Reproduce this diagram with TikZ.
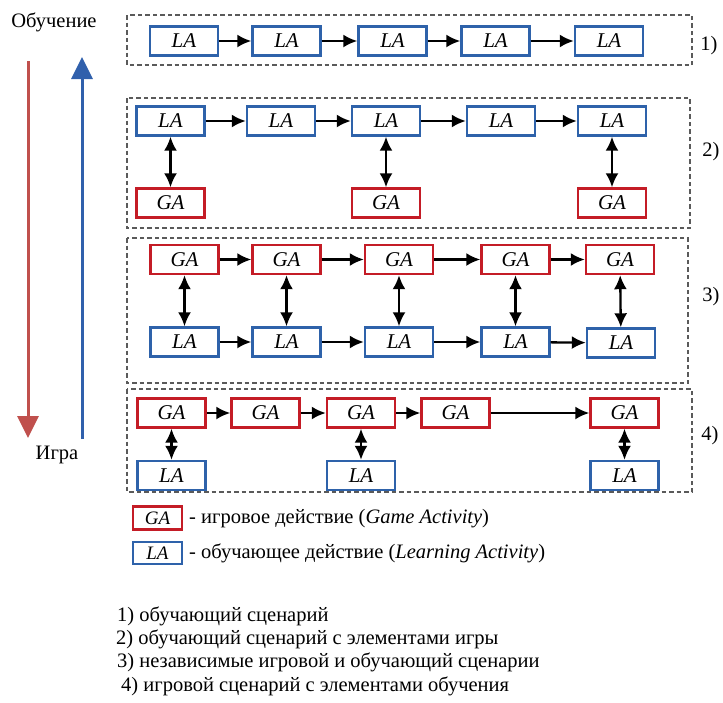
\documentclass[tikz,border=0pt]{standalone}
\usepackage{fontspec}
\IfFontExistsTF{LiberationSerif-Regular.ttf}{%
  \setmainfont{LiberationSerif}[Extension=.ttf, UprightFont=*-Regular, ItalicFont=*-Italic, BoldFont=*-Bold, BoldItalicFont=*-BoldItalic]%
}{%
  \setmainfont{Liberation Serif}%
}
\usetikzlibrary{arrows.meta}
\definecolor{boxred}{RGB}{196,28,38}
\definecolor{boxblue}{RGB}{46,98,170}
\definecolor{arrred}{RGB}{192,80,77}
\definecolor{arrblue}{RGB}{48,96,172}
\definecolor{framegray}{RGB}{90,90,90}
\tikzset{
  act/.style={draw, line width=2.4pt, fill=white, minimum width=68pt, minimum height=29pt, inner sep=0pt, font=\fontsize{21}{24}\selectfont\itshape},
  la/.style={act, draw=boxblue},
  ga/.style={act, draw=boxred},
  flow/.style={line width=2.3pt, -{Latex[length=14pt,width=13pt]}},
  both/.style={line width=2.3pt, {Latex[length=14pt,width=13pt]}-{Latex[length=14pt,width=13pt]}},
  frame/.style={draw=framegray, line width=1.4pt, dash pattern=on 4.5pt off 3pt},
  txt/.style={font=\fontsize{20.5}{24}\selectfont, inner sep=0pt},
  num/.style={font=\fontsize{20.5}{24}\selectfont, inner sep=0pt},
}
\begin{document}
\begin{tikzpicture}[x=1pt,y=-1pt]
\useasboundingbox (0,0) rectangle (723,702);
% frames
\draw[frame] (127,15) rectangle (692,65);
\draw[frame] (127,98) rectangle (690,228);
\draw[frame] (127,238) rectangle (688,383);
\draw[frame] (127,389) rectangle (692,492);
% left arrows
\node[txt] (learn) at (54,22) {Обучение};
\node[txt] (game) at (57,455) {Игра};
\coordinate (rs) at (28,61);
\coordinate (re) at (28,438);
\coordinate (bs) at (82,439);
\coordinate (be) at (82,57);
\draw[arrred, line width=3pt, -{Triangle[length=22pt,width=21pt]}] (rs) -- (re);
\draw[arrblue, line width=3pt, -{Triangle[length=22pt,width=21pt]}] (bs) -- (be);
% row 1
\node[la] (a1) at (184,41) {LA};
\node[la] (a2) at (286.5,41) {LA};
\node[la] (a3) at (392.5,41) {LA};
\node[la] (a4) at (495.5,41) {LA};
\node[la] (a5) at (609,41) {LA};
\draw[flow] (a1) -- (a2);
\draw[flow] (a2) -- (a3);
\draw[flow] (a3) -- (a4);
\draw[flow] (a4) -- (a5);
\node[num] (n1) at (709,46) {1)};
% row 2
\node[la] (b1) at (170.5,121) {LA};
\node[la] (b2) at (281,121) {LA};
\node[la] (b3) at (386,121) {LA};
\node[la] (b4) at (501,121) {LA};
\node[la] (b5) at (612,121) {LA};
\node[ga] (bg1) at (170.5,203) {GA};
\node[ga] (bg3) at (386,203) {GA};
\node[ga] (bg5) at (612,203) {GA};
\draw[flow] (b1) -- (b2);
\draw[flow] (b2) -- (b3);
\draw[flow] (b3) -- (b4);
\draw[flow] (b4) -- (b5);
\draw[both] (b1) -- (bg1);
\draw[both] (b3) -- (bg3);
\draw[both] (b5) -- (bg5);
\node[num] (n2) at (711,152) {2)};
% row 3
\node[ga] (c1) at (184.5,259.5) {GA};
\node[ga] (c2) at (286.5,259.5) {GA};
\node[ga] (c3) at (399,259.5) {GA};
\node[ga] (c4) at (515.5,259.5) {GA};
\node[ga] (c5) at (620,259.5) {GA};
\node[la] (d1) at (184.5,342) {LA};
\node[la] (d2) at (286.5,342) {LA};
\node[la] (d3) at (399,342) {LA};
\node[la] (d4) at (515.5,342) {LA};
\node[la] (d5) at (621,343) {LA};
\foreach \i/\j in {1/2,2/3,3/4,4/5} {
  \draw[flow] (c\i) -- (c\j);
  \draw[flow] (d\i) -- (d\j);
}
\foreach \i in {1,...,5} { \draw[both] (c\i) -- (d\i); }
\node[num] (n3) at (711,297) {3)};
% row 4
\node[ga] (e1) at (171.5,413) {GA};
\node[ga] (e2) at (265.5,413) {GA};
\node[ga] (e3) at (361,413) {GA};
\node[ga] (e4) at (455.5,413) {GA};
\node[ga] (e5) at (624.5,413) {GA};
\node[la] (f1) at (171.5,475.5) {LA};
\node[la] (f3) at (361,475.5) {LA};
\node[la] (f5) at (624.5,475.5) {LA};
\draw[flow] (e1) -- (e2);
\draw[flow] (e2) -- (e3);
\draw[flow] (e3) -- (e4);
\draw[flow] (e4) -- (e5);
\draw[both] (e1) -- (f1);
\draw[both] (e3) -- (f3);
\draw[both] (e5) -- (f5);
\node[num] (n4) at (710,436) {4)};
% legend
\node[ga, minimum width=49pt, minimum height=23pt, font=\fontsize{19}{22}\selectfont\itshape] (lg) at (157.5,518) {GA};
\node[la, minimum width=49pt, minimum height=22pt, font=\fontsize{19}{22}\selectfont\itshape] (ll) at (157.5,553) {LA};
\node[txt, anchor=west] (lgt) at (189,519) {- игровое действие (\textit{Game Activity})};
\node[txt, anchor=west] (llt) at (189,553) {- обучающее действие (\textit{Learning Activity})};
% bottom list
\node[txt, anchor=west] (t1) at (117,616) {1) обучающий сценарий};
\node[txt, anchor=west] (t2) at (116,639) {2) обучающий сценарий с элементами игры};
\node[txt, anchor=west] (t3) at (117,662) {3) независимые игровой и обучающий сценарии};
\node[txt, anchor=west] (t4) at (121,686) {4) игровой сценарий с элементами обучения};
\end{tikzpicture}
\end{document}
